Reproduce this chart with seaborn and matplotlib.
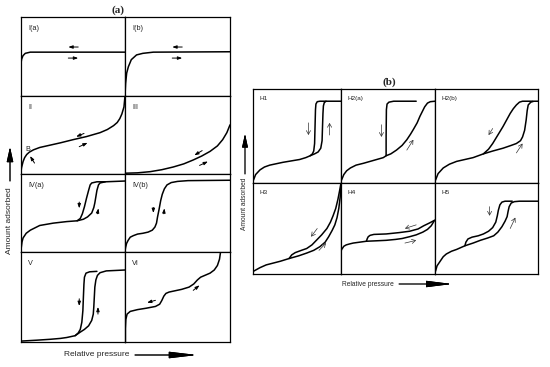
import matplotlib
matplotlib.use('Agg')
import matplotlib.pyplot as plt
import seaborn as sns

# ---- isotherm shapes (x = relative pressure, y = amount adsorbed, both 0..1 per panel)
type_ia = [(0, 0.415), (0.006, 0.466), (0.019, 0.51), (0.041, 0.54), (0.089, 0.555), (1, 0.555)]
type_ib = [(0, 0), (0.006, 0.16), (0.016, 0.29), (0.032, 0.37), (0.06, 0.46), (0.11, 0.52),
           (0.17, 0.54), (0.27, 0.555), (1, 0.56)]
type_ii = [(0, 0.03), (0.005, 0.08), (0.02, 0.16), (0.035, 0.21), (0.055, 0.25), (0.08, 0.28),
           (0.12, 0.31), (0.18, 0.34), (0.28, 0.37), (0.38, 0.40), (0.5, 0.44), (0.63, 0.48),
           (0.76, 0.53), (0.83, 0.57), (0.89, 0.62), (0.925, 0.66), (0.95, 0.71), (0.97, 0.77),
           (0.99, 0.86), (0.995, 0.93), (1.0, 1.0)]
type_iii = [(0, 0.01), (0.12, 0.015), (0.24, 0.03), (0.35, 0.055), (0.46, 0.09), (0.56, 0.13),
            (0.65, 0.18), (0.73, 0.23), (0.81, 0.29), (0.88, 0.36), (0.93, 0.44), (0.97, 0.53),
            (1.0, 0.63)]
type_iva_ads = [(0, 0.03), (0.01, 0.13), (0.02, 0.18), (0.05, 0.24), (0.09, 0.28), (0.18, 0.34),
                (0.31, 0.37), (0.44, 0.39), (0.54, 0.40), (0.60, 0.42), (0.64, 0.45), (0.68, 0.50),
                (0.70, 0.57), (0.71, 0.63), (0.72, 0.71), (0.73, 0.79), (0.745, 0.86),
                (0.76, 0.885), (0.81, 0.90), (1, 0.91)]
type_iva_des = [(0.54, 0.40), (0.57, 0.43), (0.59, 0.49), (0.61, 0.58), (0.63, 0.69), (0.65, 0.79),
                (0.665, 0.86), (0.68, 0.885), (0.73, 0.90), (0.81, 0.90)]
type_ivb = [(0, 0.01), (0.006, 0.06), (0.015, 0.11), (0.03, 0.15), (0.05, 0.19), (0.08, 0.21),
            (0.12, 0.23), (0.17, 0.24), (0.22, 0.255), (0.26, 0.28), (0.285, 0.32), (0.30, 0.37),
            (0.31, 0.45), (0.325, 0.55), (0.34, 0.66), (0.355, 0.74), (0.375, 0.81), (0.40, 0.86),
            (0.44, 0.89), (0.50, 0.905), (0.6, 0.915), (1, 0.92)]
type_v_ads = [(0, 0.01), (0.15, 0.02), (0.28, 0.03), (0.38, 0.04), (0.44, 0.05), (0.52, 0.07),
              (0.57, 0.11), (0.61, 0.14), (0.65, 0.18), (0.68, 0.24), (0.695, 0.31), (0.70, 0.39),
              (0.705, 0.50), (0.71, 0.61), (0.72, 0.69), (0.735, 0.74), (0.76, 0.77), (0.82, 0.79),
              (1, 0.80)]
type_v_des = [(0.52, 0.07), (0.55, 0.10), (0.57, 0.14), (0.585, 0.22), (0.595, 0.35), (0.60, 0.50),
              (0.605, 0.64), (0.61, 0.72), (0.625, 0.765), (0.66, 0.78), (0.73, 0.785)]
type_vi = [(0.004, 0), (0.004, 0.15), (0.008, 0.25), (0.02, 0.31), (0.05, 0.34), (0.12, 0.36),
           (0.2, 0.375), (0.29, 0.395), (0.33, 0.42), (0.35, 0.46), (0.37, 0.51), (0.39, 0.54),
           (0.42, 0.555), (0.48, 0.57), (0.54, 0.585), (0.61, 0.61), (0.655, 0.645), (0.69, 0.69),
           (0.72, 0.72), (0.77, 0.745), (0.81, 0.765), (0.85, 0.80), (0.88, 0.85), (0.90, 0.92),
           (0.91, 1.0)]

h1_ads = [(0.005, 0.03), (0.03, 0.09), (0.08, 0.14), (0.13, 0.17), (0.19, 0.19), (0.34, 0.22),
          (0.53, 0.25), (0.60, 0.27), (0.65, 0.29), (0.70, 0.31), (0.74, 0.33), (0.77, 0.37),
          (0.785, 0.45), (0.79, 0.6), (0.795, 0.74), (0.80, 0.82), (0.81, 0.855), (0.83, 0.87),
          (1, 0.87)]
h1_des = [(0.65, 0.29), (0.675, 0.31), (0.69, 0.34), (0.70, 0.42), (0.705, 0.6), (0.71, 0.78),
          (0.715, 0.84), (0.73, 0.865), (0.76, 0.87), (0.83, 0.87)]
h2a_ads = [(0.005, 0.03), (0.03, 0.09), (0.06, 0.13), (0.10, 0.16), (0.16, 0.19), (0.24, 0.21),
           (0.38, 0.25), (0.45, 0.27), (0.48, 0.29), (0.53, 0.31), (0.59, 0.35), (0.65, 0.40),
           (0.70, 0.46), (0.74, 0.52), (0.77, 0.57), (0.81, 0.64), (0.84, 0.71), (0.87, 0.77),
           (0.89, 0.81), (0.92, 0.85), (0.95, 0.865), (1, 0.87)]
h2a_des = [(0.48, 0.29), (0.48, 0.5), (0.483, 0.78), (0.49, 0.84), (0.51, 0.86), (0.56, 0.87),
           (0.8, 0.87)]
h2b_ads = [(0.005, 0.03), (0.03, 0.1), (0.08, 0.16), (0.14, 0.2), (0.21, 0.23), (0.37, 0.27),
           (0.47, 0.31), (0.56, 0.34), (0.66, 0.37), (0.74, 0.40), (0.79, 0.42), (0.83, 0.45),
           (0.85, 0.49), (0.87, 0.56), (0.885, 0.67), (0.895, 0.77), (0.905, 0.83), (0.93, 0.86),
           (0.96, 0.87), (1, 0.87)]
h2b_des = [(0.47, 0.31), (0.52, 0.36), (0.56, 0.42), (0.61, 0.51), (0.66, 0.60), (0.70, 0.68),
           (0.73, 0.74), (0.76, 0.79), (0.79, 0.83), (0.82, 0.86), (0.85, 0.87), (0.95, 0.87)]
h3_ads = [(0.005, 0.03), (0.08, 0.07), (0.15, 0.10), (0.31, 0.14), (0.41, 0.17), (0.52, 0.20),
          (0.61, 0.23), (0.69, 0.26), (0.76, 0.30), (0.82, 0.35), (0.86, 0.41), (0.90, 0.48),
          (0.93, 0.54), (0.955, 0.62), (0.975, 0.72), (0.99, 0.84), (0.997, 0.93), (1.0, 1.0)]
h3_des = [(0.41, 0.17), (0.44, 0.21), (0.48, 0.235), (0.55, 0.26), (0.61, 0.28), (0.67, 0.32),
          (0.72, 0.37), (0.78, 0.43), (0.84, 0.50), (0.88, 0.57), (0.91, 0.64), (0.94, 0.72),
          (0.965, 0.82), (0.985, 0.92), (1.0, 1.0)]
h4_ads = [(0, 0.25), (0.007, 0.27), (0.014, 0.28), (0.03, 0.305), (0.056, 0.32), (0.09, 0.33),
          (0.13, 0.34), (0.2, 0.35), (0.27, 0.36), (0.38, 0.365), (0.48, 0.37), (0.58, 0.38),
          (0.65, 0.39), (0.73, 0.41), (0.80, 0.43), (0.87, 0.46), (0.92, 0.49), (0.96, 0.53),
          (0.995, 0.59)]
h4_des = [(0.27, 0.36), (0.28, 0.39), (0.29, 0.41), (0.31, 0.425), (0.35, 0.435), (0.48, 0.44),
          (0.62, 0.455), (0.73, 0.47), (0.82, 0.495), (0.88, 0.53), (0.94, 0.56), (0.995, 0.59)]
h5_ads = [(0.005, 0.03), (0.02, 0.09), (0.05, 0.14), (0.08, 0.19), (0.11, 0.22), (0.16, 0.25),
          (0.21, 0.27), (0.29, 0.31), (0.37, 0.34), (0.44, 0.37), (0.51, 0.395), (0.57, 0.42),
          (0.61, 0.46), (0.65, 0.52), (0.68, 0.58), (0.70, 0.63), (0.71, 0.69), (0.72, 0.74),
          (0.74, 0.78), (0.77, 0.795), (0.82, 0.80), (1, 0.80)]
h5_des = [(0.29, 0.31), (0.30, 0.35), (0.32, 0.385), (0.36, 0.405), (0.42, 0.42), (0.47, 0.44),
          (0.52, 0.47), (0.56, 0.51), (0.59, 0.57), (0.605, 0.64), (0.615, 0.70), (0.63, 0.76),
          (0.65, 0.79), (0.68, 0.80), (0.75, 0.80)]

W, H = 550, 367


def box(x0, y0, x1, y1):
    # pixel box (top-left origin) -> figure fraction rect
    return [x0 / W, 1 - y1 / H, (x1 - x0) / W, (y1 - y0) / H]


def fpx(x, y):
    return (x / W, 1 - y / H)


def draw_panel(fig, rect, label, branches, arrows, solid=True, lab_off=(5, -8), lab_size=5.2):
    ax = fig.add_axes(rect)
    for pts in branches:
        sns.lineplot(x=[p[0] for p in pts], y=[p[1] for p in pts], sort=False,
                     estimator=None, color='black', linewidth=1.1, ax=ax)
    for tail, tip in arrows:
        if solid:
            props = dict(arrowstyle='-|>,head_length=0.5,head_width=0.18', color='black',
                         lw=0.7, mutation_scale=5, shrinkA=0, shrinkB=0)
        else:
            props = dict(arrowstyle='->,head_length=0.45,head_width=0.25', color='#333333',
                         lw=0.5, mutation_scale=6, shrinkA=0, shrinkB=0)
        ax.annotate('', xy=tip, xytext=tail, arrowprops=props)
    ax.annotate(label, xy=(0, 1), xycoords='axes fraction', xytext=lab_off,
                textcoords='offset points', ha='left', va='center', fontsize=lab_size,
                color='#222222')
    ax.set_xlim(0, 1)
    ax.set_ylim(0, 1)
    ax.set_xticks([])
    ax.set_yticks([])
    ax.set_xlabel('')
    ax.set_ylabel('')
    for s in ax.spines.values():
        s.set_color('black')
        s.set_linewidth(0.9)
    return ax


sns.set_style('white')
plt.rcParams['font.family'] = ['Liberation Sans', 'DejaVu Sans']

fig = plt.figure(figsize=(5.5, 3.67), dpi=100)

# ---- panel (a)
ca = [21, 125, 230]
ra = [17, 96, 174, 252, 342]
a_panels = [
    ('I(a)', [type_ia], [((0.55, 0.62), (0.455, 0.62)), ((0.455, 0.48), (0.55, 0.48))]),
    ('I(b)', [type_ib], [((0.545, 0.62), (0.45, 0.62)), ((0.45, 0.48), (0.545, 0.48))]),
    ('II', [type_ii], [((0.606, 0.52), (0.53, 0.478)), ((0.56, 0.35), (0.64, 0.40)),
                       ((0.13, 0.14), (0.087, 0.23))]),
    ('III', [type_iii], [((0.735, 0.30), (0.66, 0.24)), ((0.71, 0.11), (0.79, 0.16))]),
    ('IV(a)', [type_iva_ads, type_iva_des], [((0.56, 0.64), (0.56, 0.56)),
                                             ((0.735, 0.49), (0.745, 0.56))]),
    ('IV(b)', [type_ivb], [((0.27, 0.57), (0.27, 0.50)), ((0.37, 0.49), (0.375, 0.56))]),
    ('V', [type_v_ads, type_v_des], [((0.56, 0.48), (0.56, 0.40)), ((0.74, 0.31), (0.74, 0.39))]),
    ('VI', [type_vi], [((0.29, 0.463), (0.21, 0.437)), ((0.65, 0.574), (0.71, 0.63))]),
]
for i, (lab, br, arr) in enumerate(a_panels):
    r, c = divmod(i, 2)
    ax = draw_panel(fig, box(ca[c], ra[r], ca[c + 1], ra[r + 1]), lab, br, arr)
    if lab == 'II':
        ax.text(0.067, 0.32, 'B', fontsize=5.2, ha='center', va='center', color='#222222')

fig.text(*fpx(118, 10.5), '(a)', family='Liberation Serif', fontweight='bold', fontsize=8,
         ha='center', va='center')
fig.text(*fpx(10, 221), 'Amount adsorbed', rotation=90, fontsize=6, ha='center', va='center')
fig.add_artist(plt.annotate('', xy=fpx(10, 147), xytext=fpx(10, 181), xycoords='figure fraction',
                            arrowprops=dict(arrowstyle='-|>,head_length=0.9,head_width=0.2',
                                            color='black', lw=0.7, mutation_scale=10,
                                            shrinkA=0, shrinkB=0)))
fig.text(*fpx(97, 355), 'Relative pressure', fontsize=6, ha='center', va='center')
fig.add_artist(plt.annotate('', xy=fpx(197, 355), xytext=fpx(135, 355), xycoords='figure fraction',
                            arrowprops=dict(arrowstyle='-|>,head_length=1.7,head_width=0.2',
                                            color='black', lw=0.7, mutation_scale=10,
                                            shrinkA=0, shrinkB=0)))

# ---- panel (b)
cb = [253, 341, 435, 538]
rb = [89, 183, 274]
b_panels = [
    ('H1', [h1_ads, h1_des], [((0.63, 0.64), (0.63, 0.51)), ((0.87, 0.51), (0.87, 0.64))]),
    ('H2(a)', [h2a_ads, h2a_des], [((0.43, 0.62), (0.43, 0.49)), ((0.70, 0.35), (0.77, 0.46))]),
    ('H2(b)', [h2b_ads, h2b_des], [((0.56, 0.58), (0.52, 0.51)), ((0.79, 0.32), (0.85, 0.42))]),
    ('H3', [h3_ads, h3_des], [((0.73, 0.50), (0.66, 0.41)), ((0.75, 0.26), (0.83, 0.34))]),
    ('H4', [h4_ads, h4_des], [((0.80, 0.54), (0.68, 0.50)), ((0.68, 0.34), (0.80, 0.37))]),
    ('H5', [h5_ads, h5_des], [((0.53, 0.74), (0.53, 0.64)), ((0.73, 0.50), (0.78, 0.62))]),
]
for i, (lab, br, arr) in enumerate(b_panels):
    r, c = divmod(i, 3)
    draw_panel(fig, box(cb[c], rb[r], cb[c + 1], rb[r + 1]), lab, br, arr, solid=False,
               lab_off=(5, -6.5), lab_size=4.6)

fig.text(*fpx(389.5, 82), '(b)', family='Liberation Serif', fontweight='bold', fontsize=8,
         ha='center', va='center')
fig.text(*fpx(245, 204), 'Amount adsorbed', rotation=90, fontsize=4.8, ha='center', va='center')
fig.add_artist(plt.annotate('', xy=fpx(245, 134), xytext=fpx(245, 174), xycoords='figure fraction',
                            arrowprops=dict(arrowstyle='-|>,head_length=0.9,head_width=0.2',
                                            color='black', lw=0.6, mutation_scale=9,
                                            shrinkA=0, shrinkB=0)))
fig.text(*fpx(368, 284), 'Relative pressure', fontsize=4.8, ha='center', va='center')
fig.add_artist(plt.annotate('', xy=fpx(452, 284), xytext=fpx(399, 284), xycoords='figure fraction',
                            arrowprops=dict(arrowstyle='-|>,head_length=1.6,head_width=0.2',
                                            color='black', lw=0.6, mutation_scale=10,
                                            shrinkA=0, shrinkB=0)))

fig.savefig('out.png', dpi=100)
plt.close(fig)
